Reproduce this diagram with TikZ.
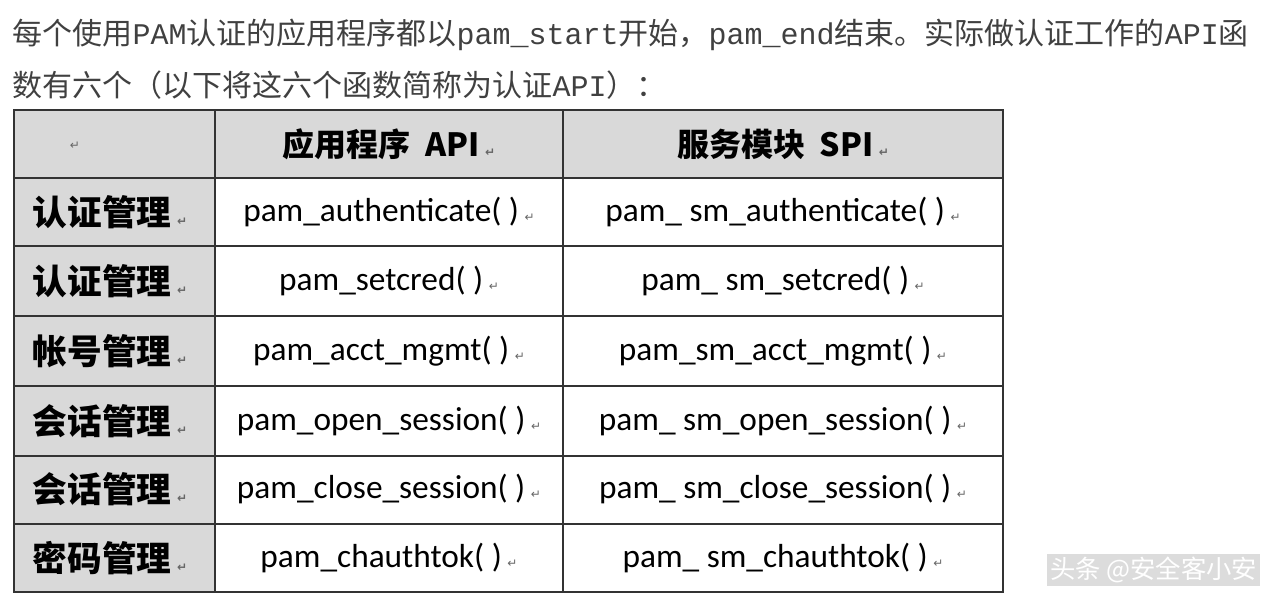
\documentclass[tikz,border=0pt]{standalone}
\usepackage{fontspec}
\setmainfont{Carlito}
\newfontfamily\cjk{Noto Sans CJK SC}
\newfontfamily\sym{DejaVu Sans}
\newfontfamily\lmono{Liberation Mono}
\usetikzlibrary{positioning}

\tikzset{
  cell/.style={font=\fontsize{25}{28}\selectfont},
  head/.style={font=\fontsize{24}{27}\selectfont\cjk\bfseries},
  side/.style={font=\fontsize{26}{28}\selectfont\cjk\bfseries},
  intro/.style={anchor=west, font=\fontsize{22.5}{24}\selectfont\cjk, text=black!75},
  ret/.style={font=\fontsize{9}{10}\selectfont\sym, text=black!60, inner sep=0pt},
  grid/.style={line width=1.2pt, black!80}
}
\newcommand{\rt}{\,{\sym\fontsize{9}{10}\selectfont\color{black!60}↵}}
\newcommand{\mn}[1]{{\lmono #1}}

\begin{document}
\begin{tikzpicture}[x=0.75pt,y=-0.75pt]
  \useasboundingbox (0,0) rectangle (1280,606);
  % intro text
  \node[intro] (intro1) at (8,35)
    {每个使用\mn{PAM}认证的应用程序都以\mn{pam\_start}开始，\mn{pam\_end}结束。实际做认证工作的\mn{API}函};
  \node[intro] (intro2) at (8,85)
    {数有六个（以下将这六个函数简称为认证\mn{API}）：};
  % shading
  \fill[black!15] (14,110) rectangle (1003,178);
  \fill[black!15] (14,178) rectangle (215,592);
  % grid
  \draw[grid] (14,110) rectangle (1003,592);
  \foreach \y in {178,246,316,386,456,524}
    \draw[grid] (14,\y) -- (1003,\y);
  \foreach \x in {215,563}
    \draw[grid] (\x,110) -- (\x,592);
  % header
  \node[ret] (h0) at (75,146) {↵};
  \node[head] (h1) at (389,144) {应用程序\ \ API\rt};
  \node[head] (h2) at (783,144) {服务模块\ \ SPI\rt};
  % rows
  \foreach \y/\a/\b/\c [count=\i] in {
      212/认证管理/pam\_authenticate( )/pam\_ sm\_authenticate( ),
      281/认证管理/pam\_setcred( )/pam\_ sm\_setcred( ),
      351/帐号管理/pam\_acct\_mgmt( )/pam\_sm\_acct\_mgmt( ),
      421/会话管理/pam\_open\_session( )/pam\_ sm\_open\_session( ),
      489/会话管理/pam\_close\_session( )/pam\_ sm\_close\_session( ),
      558/密码管理/pam\_chauthtok( )/pam\_ sm\_chauthtok( )} {
    \node[side, anchor=west] (s\i) at (28,\y) {\a\rt};
    \node[cell] (a\i) at (389,\y) {\b\rt};
    \node[cell] (b\i) at (783,\y) {\c\rt};
  }
  % watermark
  \node[anchor=east, font=\fontsize{19}{21}\selectfont\cjk, text=white, fill=black!30, fill opacity=0.45, text opacity=1, inner sep=2pt] (mark) at (1260,570) {头条 @安全客小安};
\end{tikzpicture}
\end{document}
